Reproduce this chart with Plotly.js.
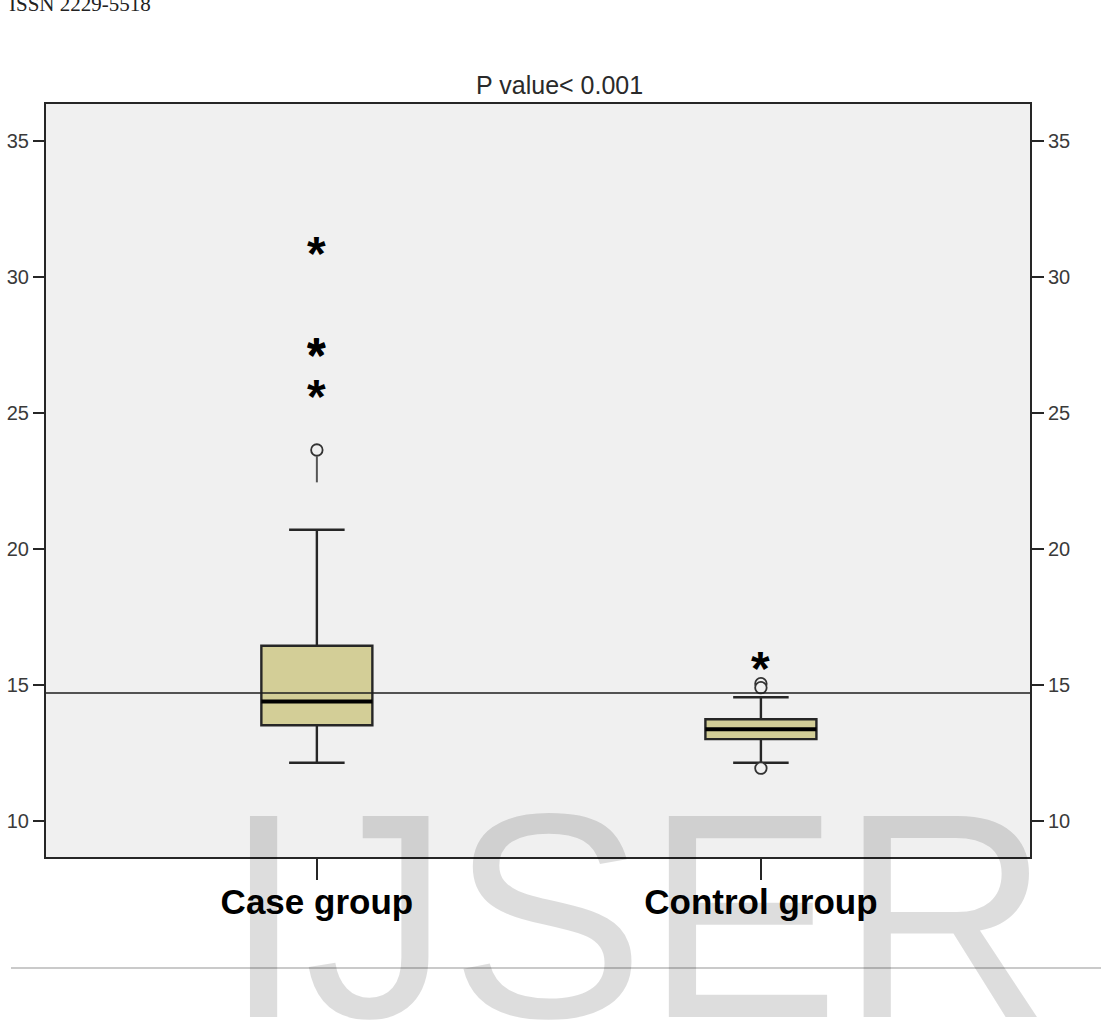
<!DOCTYPE html>
<html>
<head>
<meta charset="utf-8">
<script src="https://cdn.plot.ly/plotly-3.0.1.min.js"></script>
<style>html,body{margin:0;padding:0;background:#fff;}#chart{width:1101px;height:1023px;}</style>
</head>
<body>
<div id="chart"></div>
<script>
// ---- data ----
var categories = ["Case group", "Control group"];
var q1 = [13.52, 13.01];
var medians = [14.39, 13.37];
var q3 = [16.44, 13.74];
var lowerWhisker = [12.14, 12.14];
var upperWhisker = [20.71, 14.55];
var caseCircles = [23.64];
var controlCircles = [15.05, 14.90, 11.94];
var caseStars = [31.09, 27.32, 27.38, 25.82];
var controlStars = [15.82];
var caseCircleStem = [22.45, 23.40];
var referenceValue = [14.71];
var yTicks = [10, 15, 20, 25, 30, 35];
var titleText = "P value< 0.001";

// ---- style ----
var boxWidth = 0.25;
var dark = "#262626";
var xPos = categories.map(function (c, i) { return i; });

var traces = [];
traces.push({
  type: "box",
  x: xPos,
  q1: q1, median: medians, q3: q3,
  lowerfence: lowerWhisker, upperfence: upperWhisker,
  boxpoints: false,
  width: boxWidth,
  whiskerwidth: 0.5,
  fillcolor: "#d3ce97",
  line: {color: dark, width: 2.4},
  hoverinfo: "skip",
  showlegend: false
});
// thick median bars
xPos.forEach(function (xi, i) {
  traces.push({
    type: "scatter", mode: "lines",
    x: [xi - boxWidth / 2, xi + boxWidth / 2],
    y: [medians[i], medians[i]],
    line: {color: "#000", width: 4},
    hoverinfo: "skip", showlegend: false
  });
});
// stem under the case circle
traces.push({
  type: "scatter", mode: "lines",
  x: [0, 0], y: caseCircleStem,
  line: {color: "#555", width: 2},
  hoverinfo: "skip", showlegend: false
});
// circle outliers
var cx = [], cy = [];
caseCircles.forEach(function (v) { cx.push(0); cy.push(v); });
controlCircles.forEach(function (v) { cx.push(1); cy.push(v); });
traces.push({
  type: "scatter", mode: "markers",
  x: cx, y: cy,
  marker: {symbol: "circle", size: 11.5, color: "#f0f0f0", line: {color: "#333", width: 1.8}},
  hoverinfo: "skip", showlegend: false
});
// invisible trace on right axis
traces.push({
  type: "scatter", mode: "markers", x: [0], y: [yTicks[0]], yaxis: "y2",
  marker: {opacity: 0}, hoverinfo: "skip", showlegend: false
});

// asterisk outliers as annotations
var annotations = [];
function star(xi, v) {
  annotations.push({
    x: xi, y: v, xref: "x", yref: "y", text: "*", showarrow: false,
    font: {family: "Liberation Sans", size: 48, color: "#000", weight: "bold"},
    xanchor: "center", yanchor: "middle", yshift: -6
  });
}
caseStars.forEach(function (v) { star(0, v); });
controlStars.forEach(function (v) { star(1, v); });

// page decorations
annotations.push({
  xref: "paper", yref: "paper", x: (7 - 46) / 984, y: (857 - 13) / 753,
  xanchor: "left", yanchor: "bottom", yshift: -5,
  text: "ISSN 2229-5518", showarrow: false,
  font: {family: "Liberation Serif", size: 21, color: "#222"}
});
annotations.push({
  xref: "paper", yref: "paper", x: (221 - 46) / 984, y: (857 - 1023) / 753,
  xanchor: "left", yanchor: "bottom", yshift: -58,
  text: "IJSER", showarrow: false,
  font: {family: "Liberation Sans", size: 292, color: "rgba(0,0,0,0.135)"}
});

var shapes = [
  {type: "line", xref: "paper", yref: "y", x0: 0, x1: 1, y0: referenceValue[0], y1: referenceValue[0],
   line: {color: "#1e1e1e", width: 1.5}, layer: "above"},
  {type: "line", xref: "paper", yref: "paper", x0: (11 - 46) / 984, x1: (1101 - 46) / 984,
   y0: (857 - 968) / 753, y1: (857 - 968) / 753, line: {color: "#b8b8b8", width: 1.5}}
];

var yRange = [8.676, 36.36];
var tickFont = {family: "Liberation Sans", size: 20, color: "#3a3a3a"};
var layout = {
  width: 1101, height: 1023,
  margin: {l: 46, r: 71, t: 104, b: 166},
  paper_bgcolor: "#ffffff",
  plot_bgcolor: "#f0f0f0",
  showlegend: false,
  title: {
    text: titleText, xref: "paper", x: 0.522, xanchor: "center",
    yref: "container", y: 1 - 94 / 1023, yanchor: "bottom",
    font: {family: "Liberation Sans", size: 25, color: "#2a2a2a"}
  },
  xaxis: {
    range: [-0.61, 1.606], tickmode: "array", tickvals: xPos, ticktext: categories,
    showgrid: false, zeroline: false,
    showline: true, mirror: true, linecolor: dark, linewidth: 2,
    ticks: "outside", ticklen: 21, tickwidth: 2, tickcolor: dark,
    ticklabelstandoff: -8,
    tickfont: {family: "Liberation Sans", size: 35, color: "#000", weight: "bold"}
  },
  yaxis: {
    range: yRange, tickmode: "array", tickvals: yTicks,
    showgrid: false, zeroline: false,
    showline: true, mirror: true, linecolor: dark, linewidth: 2,
    ticks: "outside", ticklen: 11, tickwidth: 1.5, tickcolor: dark,
    tickfont: tickFont
  },
  yaxis2: {
    range: yRange, tickmode: "array", tickvals: yTicks,
    overlaying: "y", side: "right",
    showgrid: false, zeroline: false, showline: false,
    ticks: "outside", ticklen: 13, tickwidth: 1.5, tickcolor: dark,
    tickfont: tickFont
  },
  shapes: shapes,
  annotations: annotations
};

Plotly.newPlot("chart", traces, layout, {staticPlot: true, displayModeBar: false});
</script>
</body>
</html>
